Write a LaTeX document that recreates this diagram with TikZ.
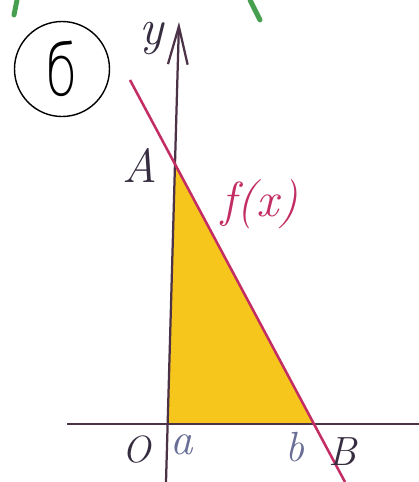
\documentclass[tikz,border=0pt]{standalone}
\usepackage{fontspec}
\newfontfamily\cyr{DejaVu Sans ExtraLight}
\usetikzlibrary{arrows.meta}
\definecolor{axiscol}{RGB}{75,50,70}
\definecolor{linecol}{RGB}{195,45,100}
\definecolor{fillcol}{RGB}{247,198,28}
\definecolor{labcol}{RGB}{55,45,65}
\definecolor{paleblue}{RGB}{105,110,150}
\definecolor{greencol}{RGB}{70,160,80}
\tikzset{
  axisline/.style={draw=axiscol, line width=1.6pt},
  fnline/.style={draw=linecol, line width=1.8pt},
  lab/.style={text=labcol, inner sep=0pt},
  plab/.style={text=paleblue, inner sep=0pt},
}
\begin{document}
\begin{tikzpicture}[x=0.025cm, y=-0.025cm]
\useasboundingbox (0,0) rectangle (419,482);
\fill[white] (0,0) rectangle (419,482);
% stray green marks
\draw[greencol, line width=3.5pt, line cap=round] (17,0) -- (14,15);
\draw[greencol, line width=3.5pt, line cap=round] (250,0) -- (260,20);
% coordinates
\coordinate (ybot) at (166,482);
\coordinate (ytop) at (179,22);
\coordinate (xl) at (67,424);
\coordinate (xr) at (419,424);
\coordinate (fl) at (130,80);
\coordinate (fr) at (345,482);
\coordinate (A) at (intersection of fl--fr and ybot--ytop);
\coordinate (O) at (intersection of xl--xr and ybot--ytop);
\coordinate (Bp) at (intersection of xl--xr and fl--fr);
% shaded triangle
\fill[fillcol] (A) -- (O) -- (Bp) -- cycle;
% axes
\draw[axisline] (xl) -- (xr);
\draw[axisline, -{Straight Barb[length=27pt,width=14pt,line width=1.6pt]}] (ybot) -- (ytop);
% function line
\draw[fnline] (fl) -- (fr);
% circled label
\node[draw=black, line width=1pt, circle, minimum size=95*0.025cm, inner sep=0pt] (num) at (62,69) {};
\node[inner sep=0pt, xscale=0.75] (numtxt) at (num.center) {\fontsize{50}{50}\selectfont\cyr б};
% labels
\node[lab] (ylab) at (152,38) {\fontsize{36}{36}\selectfont\itshape y};
\node[lab] (Alab) at (140,165) {\fontsize{34}{34}\selectfont\itshape A};
\node[text=linecol, inner sep=0pt] (flab) at (260,204) {\fontsize{35}{35}\selectfont\itshape f(x)};
\node[lab] (Olab) at (137,450) {\fontsize{27}{27}\selectfont\itshape O};
\node[plab] (alab) at (182,445) {\fontsize{32}{32}\selectfont\itshape a};
\node[plab] (blab) at (295,447) {\fontsize{30}{30}\selectfont\itshape b};
\node[lab] (Blab) at (343,452) {\fontsize{29}{29}\selectfont\itshape B};
\end{tikzpicture}
\end{document}
